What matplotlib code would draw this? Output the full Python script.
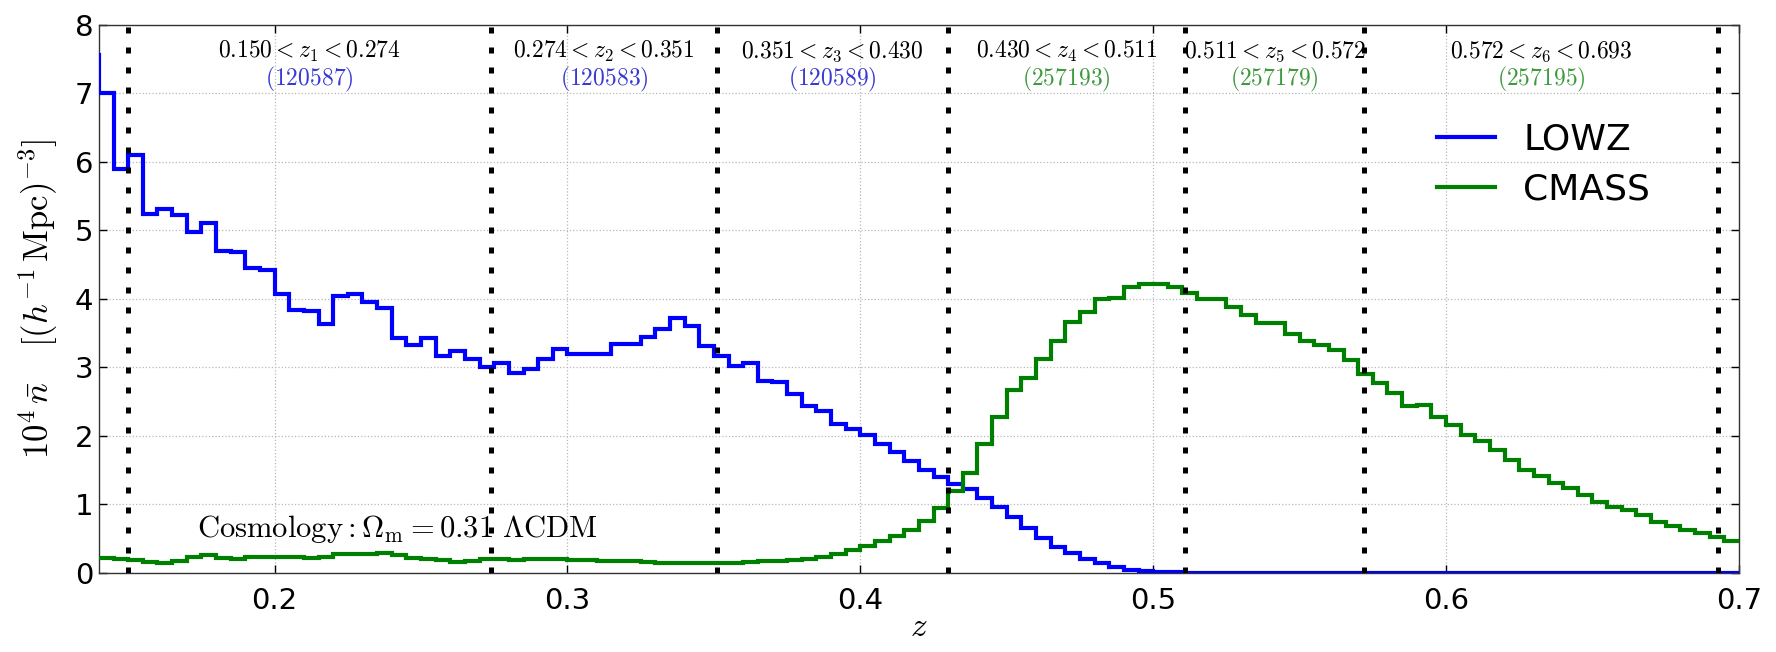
import numpy as np
import matplotlib
matplotlib.use("Agg")
import matplotlib.pyplot as plt

plt.rcParams["mathtext.fontset"] = "cm"
plt.rcParams["font.family"] = ["DejaVu Sans"]

# histogram bins (dz = 0.005) and number densities, 10^4 nbar [(h^-1 Mpc)^-3]
bin_edges = np.linspace(0.135, 0.700, 114)

lowz_nbar = [
    7.56, 7.01, 5.90, 6.10, 5.24, 5.32, 5.23, 4.98, 5.11, 4.70,
    4.68, 4.45, 4.42, 4.07, 3.84, 3.83, 3.63, 4.05, 4.07, 3.95,
    3.87, 3.43, 3.33, 3.43, 3.17, 3.24, 3.13, 3.01, 3.06, 2.92,
    2.98, 3.13, 3.27, 3.20, 3.20, 3.20, 3.35, 3.35, 3.45, 3.56,
    3.72, 3.60, 3.32, 3.17, 3.02, 3.06, 2.80, 2.79, 2.61, 2.44,
    2.36, 2.17, 2.10, 2.02, 1.88, 1.76, 1.63, 1.51, 1.40, 1.30,
    1.22, 1.09, 0.96, 0.81, 0.65, 0.51, 0.38, 0.29, 0.20, 0.14,
    0.09, 0.05, 0.03, 0.02, 0.01, 0.00, 0.00, 0.00, 0.00, 0.00,
    0.00, 0.00, 0.00, 0.00, 0.00, 0.00, 0.00, 0.00, 0.00, 0.00,
    0.00, 0.00, 0.00, 0.00, 0.00, 0.00, 0.00, 0.00, 0.00, 0.00,
    0.00, 0.00, 0.00, 0.00, 0.00, 0.00, 0.00, 0.00, 0.00, 0.00,
    0.00, 0.00, 0.00,
]

cmass_nbar = [
    0.22, 0.22, 0.21, 0.19, 0.16, 0.15, 0.17, 0.24, 0.26, 0.22,
    0.21, 0.23, 0.24, 0.23, 0.23, 0.22, 0.24, 0.27, 0.28, 0.28,
    0.29, 0.26, 0.22, 0.20, 0.19, 0.16, 0.18, 0.20, 0.20, 0.19,
    0.20, 0.20, 0.20, 0.19, 0.19, 0.18, 0.18, 0.17, 0.16, 0.15,
    0.14, 0.14, 0.15, 0.15, 0.15, 0.16, 0.17, 0.18, 0.19, 0.20,
    0.24, 0.28, 0.33, 0.39, 0.46, 0.54, 0.63, 0.76, 0.95, 1.20,
    1.46, 1.88, 2.28, 2.67, 2.84, 3.12, 3.39, 3.66, 3.81, 4.00,
    4.01, 4.18, 4.22, 4.22, 4.17, 4.09, 4.00, 4.00, 3.89, 3.77,
    3.65, 3.65, 3.49, 3.38, 3.33, 3.26, 3.11, 2.91, 2.77, 2.63,
    2.44, 2.45, 2.28, 2.16, 2.01, 1.92, 1.80, 1.65, 1.50, 1.41,
    1.31, 1.24, 1.14, 1.04, 0.97, 0.92, 0.85, 0.75, 0.69, 0.63,
    0.58, 0.52, 0.46,
]

# redshift slice boundaries and galaxy counts per slice
z_bounds = [0.150, 0.274, 0.351, 0.430, 0.511, 0.572, 0.693]
slice_counts = ["120587", "120583", "120589", "257193", "257179", "257195"]
slice_sample = ["LOWZ", "LOWZ", "LOWZ", "CMASS", "CMASS", "CMASS"]

COLORS = {"LOWZ": "#0000ff", "CMASS": "#008000"}
COUNT_COLORS = {"LOWZ": "#3a3ad2", "CMASS": "#3d9a3d"}

fig = plt.figure(figsize=(17.76, 6.52), dpi=100)
ax = fig.add_axes([0.0557, 0.1212, 0.9234, 0.8405])

ax.stairs(lowz_nbar, bin_edges, baseline=None, color=COLORS["LOWZ"], linewidth=3.0, label="LOWZ", zorder=3)
ax.stairs(cmass_nbar, bin_edges, baseline=None, color=COLORS["CMASS"], linewidth=3.0, label="CMASS", zorder=3)

for zb in z_bounds:
    ax.axvline(zb, color="black", linewidth=3.6, linestyle=(0, (1.2, 2.8)),
               dash_capstyle="butt", zorder=4)

for i in range(len(slice_counts)):
    zmid = 0.5 * (z_bounds[i] + z_bounds[i + 1])
    ax.text(zmid, 7.61, rf"$%.3f<z_{i + 1}<%.3f$" % (z_bounds[i], z_bounds[i + 1]),
            ha="center", va="center", fontsize=17, color="black")
    ax.text(zmid, 7.21, r"$(%s)$" % slice_counts[i], ha="center", va="center",
            fontsize=17, color=COUNT_COLORS[slice_sample[i]])

ax.text(0.1735, 0.52, r"$\mathrm{Cosmology:\Omega_m=0.31\ \Lambda CDM}$",
        ha="left", va="baseline", fontsize=22, zorder=5)

ax.set_xlim(0.14, 0.70)
ax.set_ylim(0, 8)
ax.set_xticks([0.2, 0.3, 0.4, 0.5, 0.6, 0.7])
ax.set_yticks(range(0, 9))
ax.grid(True, color="#b8b8b8", linestyle=":", linewidth=0.9)
ax.set_axisbelow(True)
ax.tick_params(axis="both", direction="in", length=6, width=1, top=True, right=True, labelsize=21)
ax.tick_params(axis="x", pad=10)
ax.tick_params(axis="y", pad=4)
for spine in ax.spines.values():
    spine.set_linewidth(1.0)
    spine.set_color("#333333")

ax.set_xlabel(r"$z$", fontsize=24)
ax.xaxis.set_label_coords(0.5, -0.068)
ax.set_ylabel(r"$10^4\,\bar{n}\quad\,[(h^{-1}\,\mathrm{Mpc})^{-3}]$", fontsize=25)
ax.yaxis.set_label_coords(-0.024, 0.5)

ax.legend(loc="center left", bbox_to_anchor=(0.796, 0.745), frameon=False, fontsize=26,
          handlelength=1.6, handletextpad=0.8, labelspacing=0.45, borderpad=0.4)

fig.savefig("out.png", dpi=100)
